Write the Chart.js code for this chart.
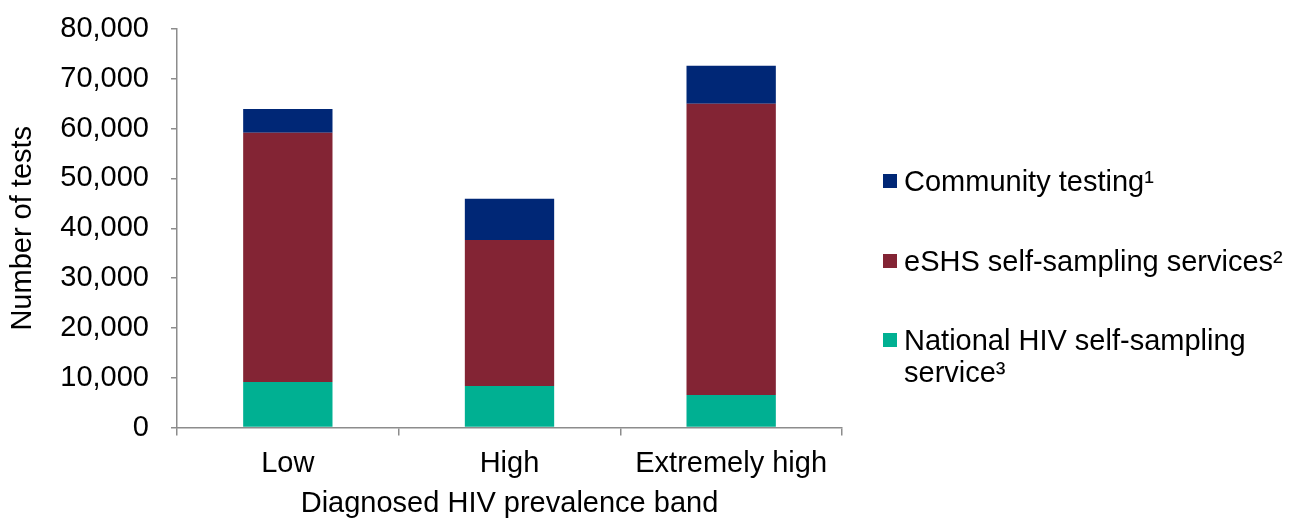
<!DOCTYPE html>
<html>
<head>
<meta charset="utf-8">
<script src="https://cdn.jsdelivr.net/npm/chart.js@4"></script>
<style>
  html, body { margin: 0; padding: 0; background: #fff; }
  #wrap { position: relative; width: 1290px; height: 519px; }
  #legend { position: absolute; left: 883px; top: 0; font-family: "Liberation Sans", Arial, sans-serif; font-size: 29px; color: #000; }
  .leg-item { position: absolute; left: 0; width: 405px; display: flex; align-items: flex-start; line-height: 32px; white-space: nowrap; }
  .leg-box { width: 14px; height: 14px; margin-top: 9px; margin-right: 7px; flex: none; }
</style>
</head>
<body>
<div id="wrap">
  <canvas id="chart" width="1290" height="519"></canvas>
  <div id="legend"></div>
</div>
<script>
// ── Data ──────────────────────────────────────────
const bands = ['Low', 'High', 'Extremely high'];
const nationalSelfSampling = [9150, 8350, 6500];
const eshsSelfSampling = [50000, 29300, 58500];
const communityTesting = [4800, 8250, 7600];

const FONT = "'Liberation Sans', Arial, sans-serif";
const AXIS_GREY = '#8c8c8c';

const datasets = [
    { label: 'National HIV self-sampling service³', data: nationalSelfSampling, backgroundColor: '#00b092' },
    { label: 'eSHS self-sampling services²', data: eshsSelfSampling, backgroundColor: '#832434' },
    { label: 'Community testing¹', data: communityTesting, backgroundColor: '#002776' }
];

// ── Chart ─────────────────────────────────────────
const chart = new Chart(document.getElementById('chart'), {
    type: 'bar',
    data: {
        labels: bands,
        datasets: datasets.map(d => ({ ...d, categoryPercentage: 1, barPercentage: 0.403, borderWidth: 0 }))
    },
    options: {
        responsive: false,
        animation: false,
        layout: { padding: { top: 29, right: 448, bottom: 0, left: 0 } },
        plugins: { legend: { display: false }, tooltip: { enabled: false } },
        scales: {
            x: {
                stacked: true,
                grid: { display: true, offset: true, drawOnChartArea: false, drawTicks: true, tickLength: 8, color: AXIS_GREY, lineWidth: 1.5 },
                border: { color: AXIS_GREY, width: 1.5 },
                ticks: { color: '#000', font: { family: FONT, size: 29 }, padding: 11 },
                title: { display: true, text: 'Diagnosed HIV prevalence band', color: '#000', font: { family: FONT, size: 29 }, padding: { top: 9, bottom: -2 } },
                afterFit: s => { s.height = 91.5; }
            },
            y: {
                stacked: true,
                min: 0,
                max: 80000,
                grid: { display: true, drawOnChartArea: false, drawTicks: true, tickLength: 6, color: AXIS_GREY, lineWidth: 1.5 },
                border: { color: AXIS_GREY, width: 1.5 },
                ticks: {
                    stepSize: 10000,
                    color: '#000',
                    font: { family: FONT, size: 29 },
                    padding: 22,
                    callback: v => v.toLocaleString('en-US')
                },
                title: { display: true, text: 'Number of tests', color: '#000', font: { family: FONT, size: 29 }, padding: { top: 6, bottom: 0 } },
                // keep the top label overflow from pushing the plot down
                afterFit: s => { s.width = 177; s.paddingTop = 0; s.paddingBottom = 0; }
            }
        }
    }
});

// ── Legend (HTML, wraps like the original) ────────
const legendTops = [165, 245, 324];
const legend = document.getElementById('legend');
[...datasets].reverse().forEach((d, i) => {
    const item = document.createElement('div');
    item.className = 'leg-item';
    item.style.top = legendTops[i] + 'px';
    item.innerHTML = `<span class="leg-box" style="background:${d.backgroundColor}"></span><span>${d.label.replace('self-sampling service³', 'self-sampling<br>service³')}</span>`;
    legend.appendChild(item);
});
</script>
</body>
</html>
